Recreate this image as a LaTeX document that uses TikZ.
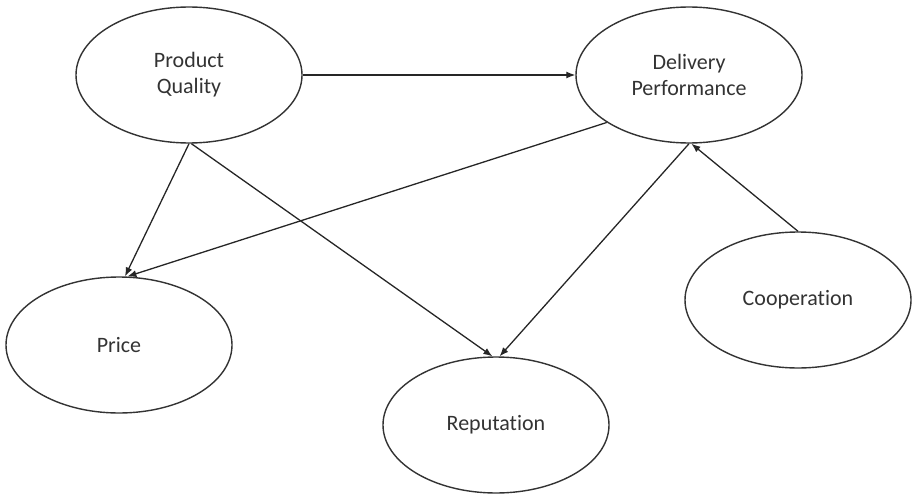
\documentclass[tikz,border=0pt]{standalone}
\usepackage{fontspec}
\setmainfont{Carlito}[RawFeature={-liga}]
\usetikzlibrary{arrows.meta,shapes.geometric}
\begin{document}
\begin{tikzpicture}[x=1pt,y=-1pt,
  var/.style={draw=black!80, line width=1.4pt, ellipse, minimum width=226pt, minimum height=136pt, inner sep=0pt,
    align=center, font=\fontsize{22}{26}\selectfont, text=black!80},
  link/.style={draw=black!85, line width=1.3pt, -{Latex[length=9pt,width=7pt]}}]
\useasboundingbox (0,0) rectangle (912,495);
\node[var] (pq) at (189,75) {Product\\Quality};
\node[var] (dp) at (689,75) {Delivery\\Performance};
\node[var] (pr) at (119,345) {Price};
\node[var] (re) at (496,425) {Reputation};
\node[var] (co) at (798,300) {Cooperation};
\draw[link] (pq.east) -- (dp.west);
\draw[link] (pq.south) -- (pr.85);
\draw[link] (dp.210) -- (pr.83);
\draw[link] (pq.-88) -- (re.93);
\draw[link] (dp.-90) -- (re.87);
\draw[link] (co.north) -- (dp.-88);
\end{tikzpicture}
\end{document}
